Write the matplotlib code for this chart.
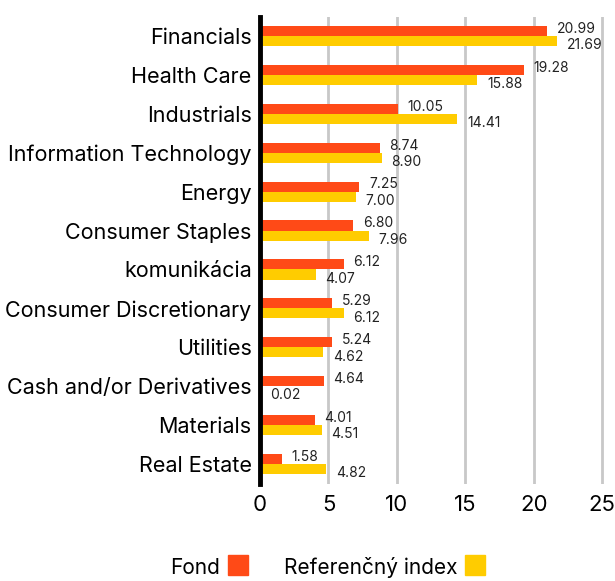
import matplotlib.pyplot as plt
import numpy as np
from matplotlib.patches import Rectangle

plt.rcParams["font.family"] = ["Inter", "DejaVu Sans"]

categories = [
    "Financials", "Health Care", "Industrials", "Information Technology",
    "Energy", "Consumer Staples", "komunikácia", "Consumer Discretionary",
    "Utilities", "Cash and/or Derivatives", "Materials", "Real Estate",
]
fond = [20.99, 19.28, 10.05, 8.74, 7.25, 6.80, 6.12, 5.29, 5.24, 4.64, 4.01, 1.58]
index = [21.69, 15.88, 14.41, 8.90, 7.00, 7.96, 4.07, 6.12, 4.62, 0.02, 4.51, 4.82]
xticks = [0, 5, 10, 15, 20, 25]

FOND_COLOR = "#FF4A17"
INDEX_COLOR = "#FFCC00"

fig = plt.figure(figsize=(6.15, 5.81), dpi=100)
ax = fig.add_axes([260 / 615, 1 - 483.5 / 581, 345 / 615, 467 / 581])

y = np.arange(len(categories))
h = 0.26
ax.barh(y - h / 2, fond, height=h, color=FOND_COLOR, zorder=3)
ax.barh(y + h / 2, index, height=h, color=INDEX_COLOR, zorder=3)

for yi, f, r in zip(y, fond, index):
    ax.annotate(f"{f:.2f}", (f, yi - h / 2), xytext=(7, 1.5), textcoords="offset points",
                va="center", ha="left", fontsize=10, color="#222222")
    ax.annotate(f"{r:.2f}", (r, yi + h / 2), xytext=(7, -3), textcoords="offset points",
                va="center", ha="left", fontsize=10, color="#222222")

ax.set_ylim(len(categories) - 0.5, -0.5)
ax.set_xlim(0, 25.2)
ax.set_yticks(y)
ax.set_yticklabels(categories, fontsize=15.5)
ax.set_xticks(xticks)
ax.set_xticklabels([str(t) for t in xticks], fontsize=16)
ax.tick_params(length=0, pad=6)
ax.tick_params(axis="x", pad=8)

for t in xticks[1:]:
    ax.axvline(t, color="#c8c8c8", lw=2, zorder=1)
for s in ["top", "right", "bottom"]:
    ax.spines[s].set_visible(False)
ax.spines["left"].set_linewidth(3.5)
ax.spines["left"].set_color("black")
ax.spines["left"].set_zorder(4)

# legend
fig.text(220 / 615, 1 - 568 / 581, "Fond", fontsize=15, ha="right", va="center")
fig.patches.append(Rectangle((228 / 615, 1 - 575 / 581), 20 / 615, 20 / 581,
                             transform=fig.transFigure, color=FOND_COLOR))
fig.text(458 / 615, 1 - 568 / 581, "Referenčný index", fontsize=15, ha="right", va="center")
fig.patches.append(Rectangle((465 / 615, 1 - 575 / 581), 20 / 615, 20 / 581,
                             transform=fig.transFigure, color=INDEX_COLOR))

fig.savefig("out.png", dpi=100)
